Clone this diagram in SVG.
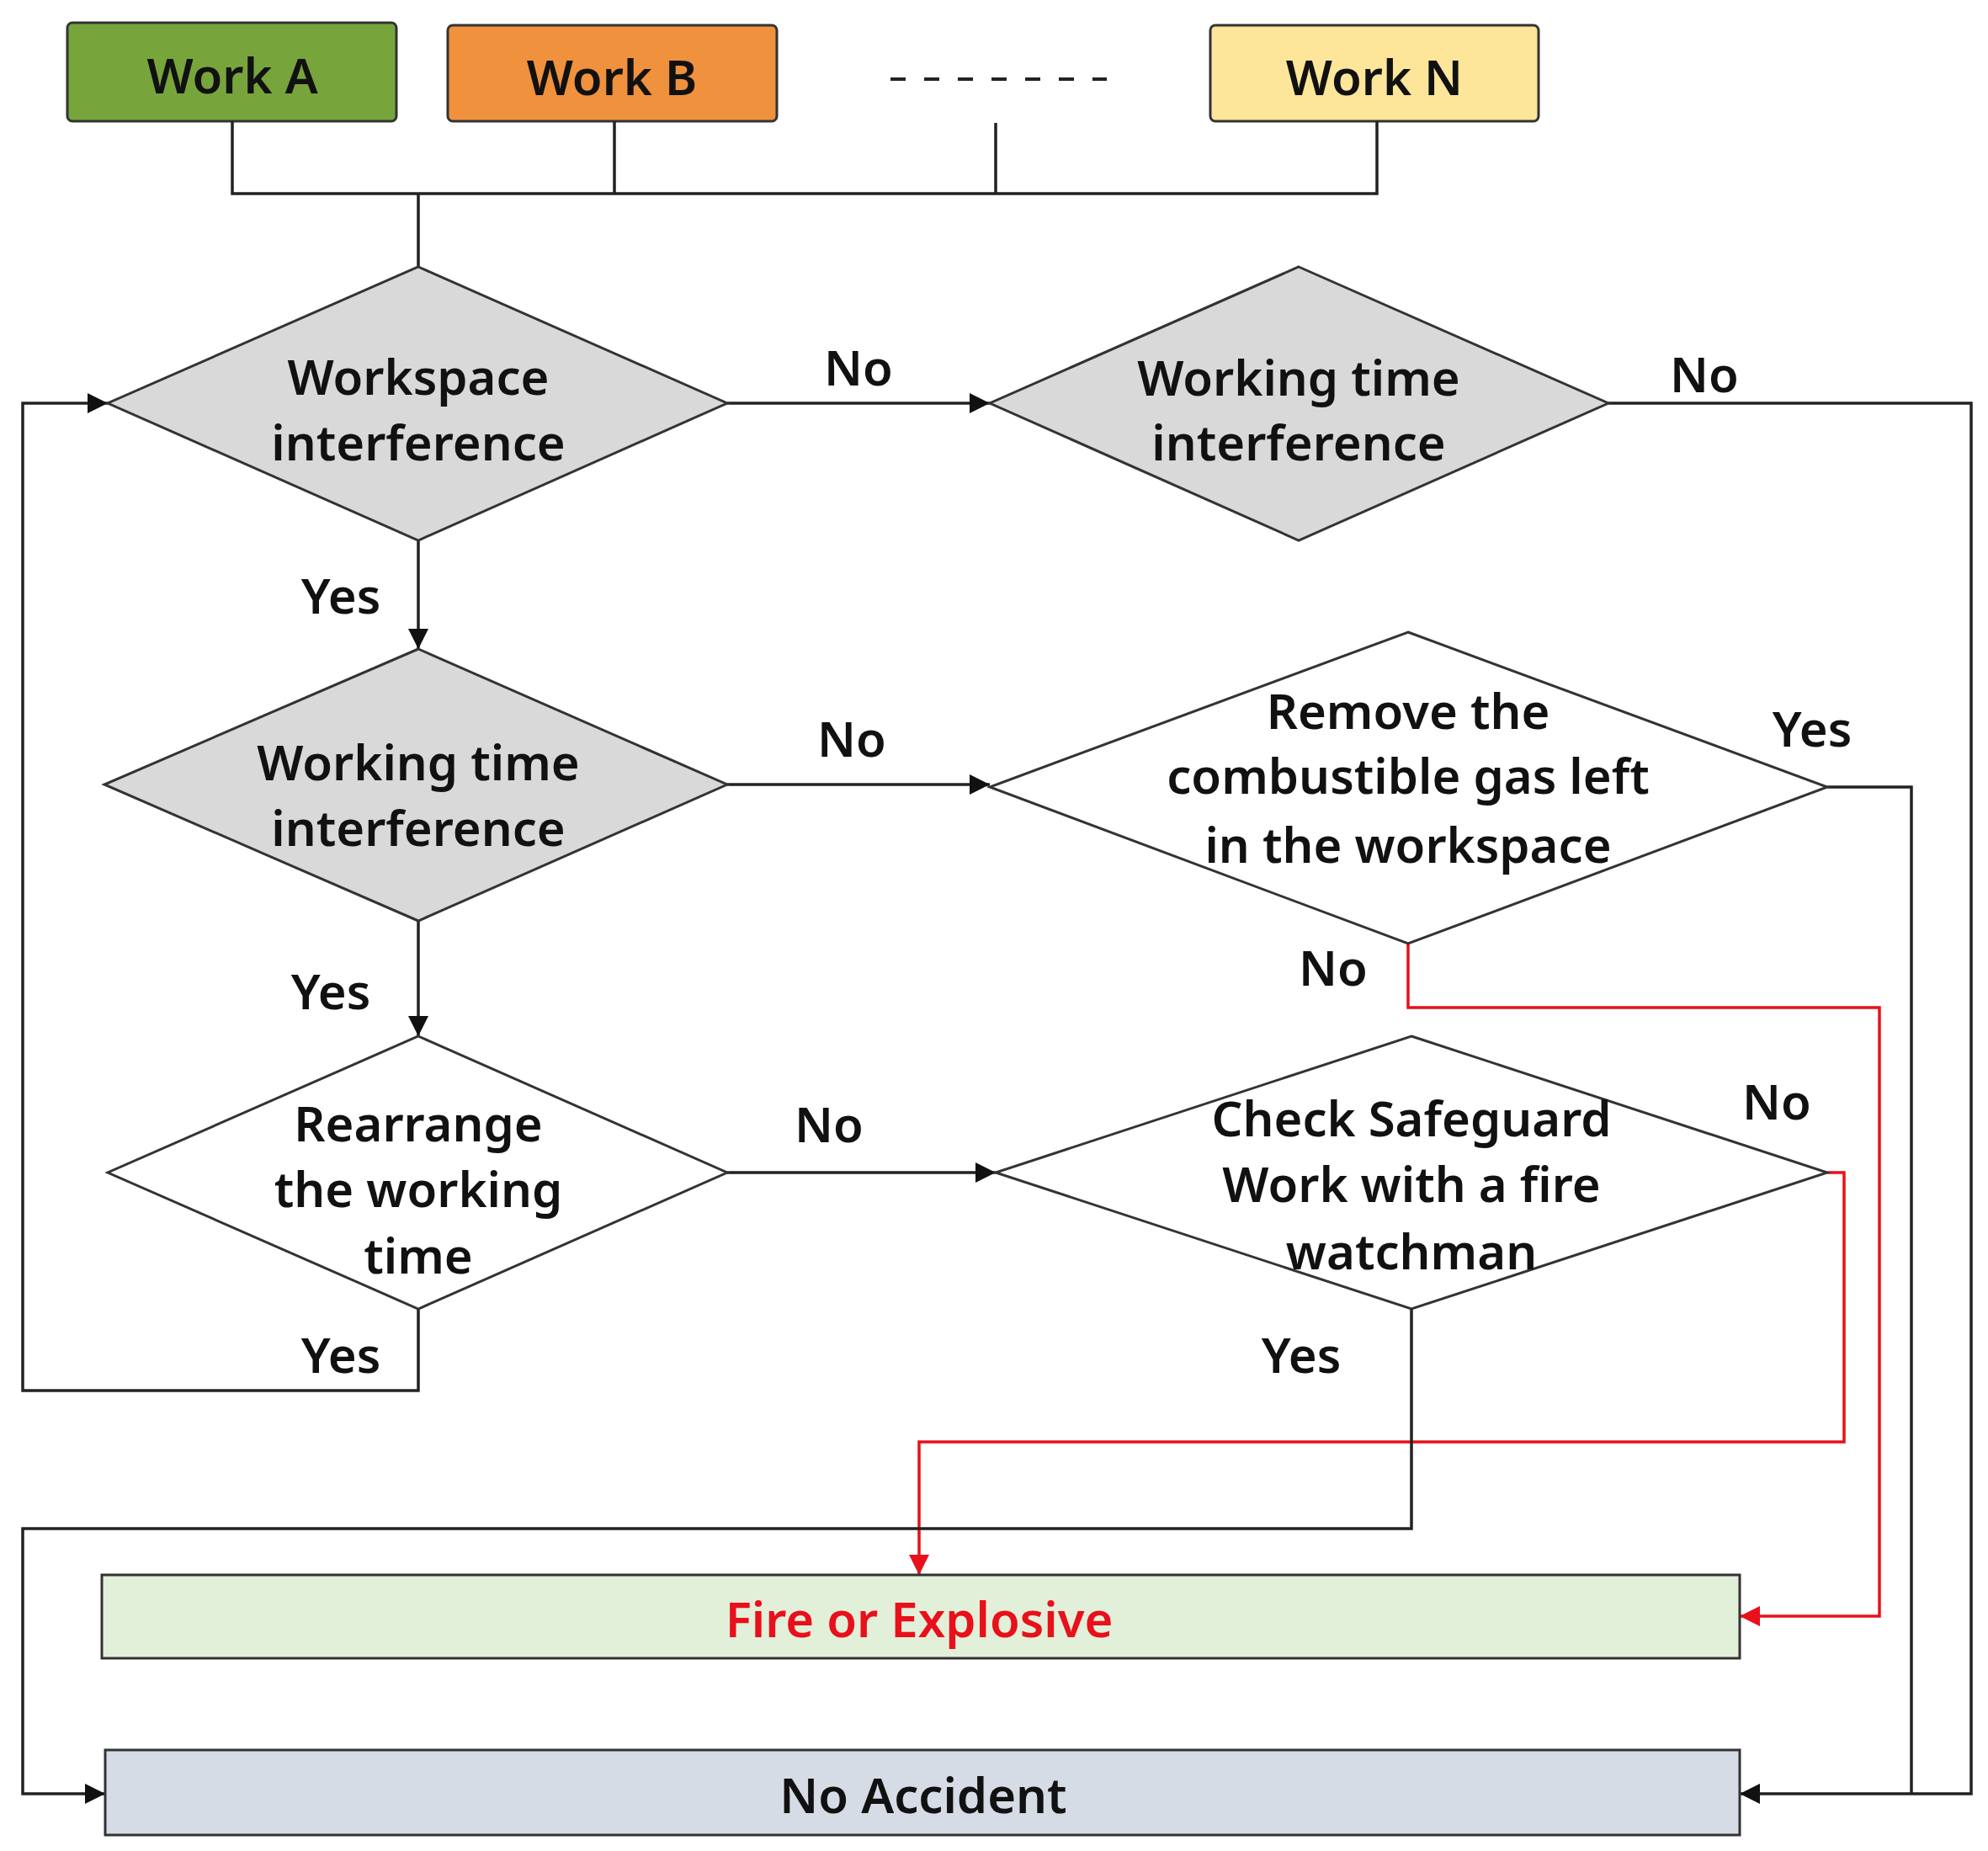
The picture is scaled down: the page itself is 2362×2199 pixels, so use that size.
<svg xmlns="http://www.w3.org/2000/svg" width="2362" height="2199" viewBox="0 0 2362 2199">
<style>
text{font-family:"Noto Sans","Liberation Sans",sans-serif;font-size:58px;font-weight:600;fill:#111;text-anchor:middle;dominant-baseline:central}
.c{fill:none;stroke:#222;stroke-width:3.5}
.r{fill:none;stroke:#e8101a;stroke-width:3.5}
.box{stroke:#333;stroke-width:3}
.d{stroke:#333;stroke-width:3}
</style>
<defs>
<marker id="a" viewBox="0 0 10 10" refX="10" refY="5" markerWidth="8" markerHeight="8" orient="auto" markerUnits="userSpaceOnUse" style="overflow:visible"><path d="M0,0L10,5L0,10z" fill="#111" transform="scale(3)" transform-origin="10 5"/></marker>
<marker id="ar" viewBox="0 0 10 10" refX="10" refY="5" markerWidth="8" markerHeight="8" orient="auto" markerUnits="userSpaceOnUse" style="overflow:visible"><path d="M0,0L10,5L0,10z" fill="#e8101a" transform="scale(3)" transform-origin="10 5"/></marker>
</defs>
<rect width="2362" height="2199" fill="#fff"/>
<g id="workA"><rect class="box" x="80" y="27" width="391" height="117" rx="6" fill="#77a53c"/><text x="276" y="88">Work A</text></g>
<g id="workB"><rect class="box" x="532" y="30" width="391" height="114" rx="6" fill="#f0913d"/><text x="727" y="90">Work B</text></g>
<g id="dots"><line x1="1058" y1="94" x2="1315" y2="94" stroke="#222" stroke-width="4" stroke-dasharray="18,22"/></g>
<g id="workN"><rect class="box" x="1438" y="30" width="390" height="114" rx="6" fill="#fde59a"/><text x="1633" y="90">Work N</text></g>
<g id="connectors">
<path class="c" d="M276,144V230H1636V144M730,144V230M1183,146V230M497,230V317"/>
<path class="c" d="M864,479H1176" marker-end="url(#a)"/>
<path class="c" d="M1911,479H2342V2131H2067" marker-end="url(#a)"/>
<path class="c" d="M497,642V771" marker-end="url(#a)"/>
<path class="c" d="M864,932H1176" marker-end="url(#a)"/>
<path class="c" d="M2171,935H2271V2131"/>
<path class="r" d="M1673,1121V1197H2233V1920H2067" marker-end="url(#ar)"/>
<path class="c" d="M497,1094V1231" marker-end="url(#a)"/>
<path class="c" d="M864,1393H1183" marker-end="url(#a)"/>
<path class="c" d="M497,1555V1652H27V479H128" marker-end="url(#a)"/>
<path class="r" d="M2171,1393H2191V1713H1092V1871" marker-end="url(#ar)"/>
<path class="c" d="M1677,1555V1816H27V2131H125" marker-end="url(#a)"/>
<text x="1020" y="435">No</text>
<text x="2025" y="443">No</text>
<text x="405" y="706">Yes</text>
<text x="1012" y="876">No</text>
<text x="2153" y="864">Yes</text>
<text x="1584" y="1148">No</text>
<text x="393" y="1176">Yes</text>
<text x="985" y="1334">No</text>
<text x="405" y="1608">Yes</text>
<text x="2111" y="1307">No</text>
<text x="1546" y="1608">Yes</text>
</g>
<g id="d1"><path class="d" d="M497,317L864,479L497,642L128,479z" fill="#d9d9d9"/><text x="497" y="446">Workspace</text><text x="497" y="524">interference</text></g>
<g id="d2"><path class="d" d="M1543,317L1911,479L1543,642L1176,479z" fill="#d9d9d9"/><text x="1543" y="447">Working time</text><text x="1543" y="524">interference</text></g>
<g id="d3"><path class="d" d="M497,771L864,932L497,1094L124,932z" fill="#d9d9d9"/><text x="497" y="904">Working time</text><text x="497" y="982">interference</text></g>
<g id="d4"><path class="d" d="M1673,751L2171,935L1673,1121L1176,935z" fill="#fff"/><text x="1673" y="843">Remove the</text><text x="1673" y="920">combustible gas left</text><text x="1673" y="1002">in the workspace</text></g>
<g id="d5"><path class="d" d="M497,1231L864,1393L497,1555L128,1393z" fill="#fff"/><text x="497" y="1333">Rearrange</text><text x="497" y="1411">the working</text><text x="497" y="1490">time</text></g>
<g id="d6"><path class="d" d="M1677,1231L2171,1393L1677,1555L1183,1393z" fill="#fff"/><text x="1677" y="1327">Check Safeguard</text><text x="1677" y="1405">Work with a fire</text><text x="1677" y="1485">watchman</text></g>
<g id="fire"><rect class="box" x="121" y="1871" width="1946" height="99" fill="#e2efd9"/><text x="1092" y="1922" style="fill:#e8101a">Fire or Explosive</text></g>
<g id="noacc"><rect class="box" x="125" y="2079" width="1942" height="101" fill="#d6dce5"/><text x="1097" y="2131">No Accident</text></g>
</svg>
